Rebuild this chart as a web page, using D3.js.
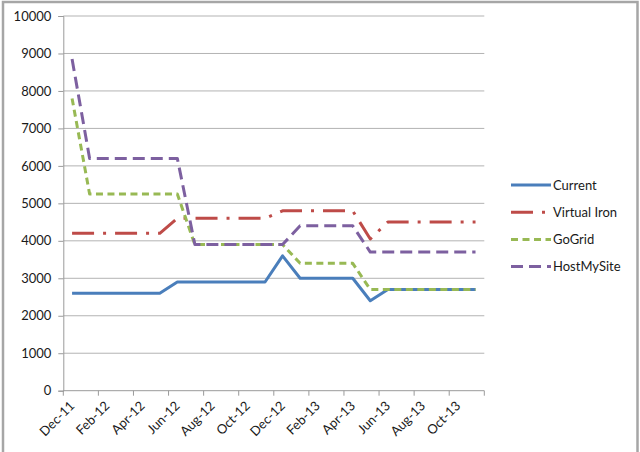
<!DOCTYPE html>
<html>
<head>
<meta charset="utf-8">
<script src="https://cdn.jsdelivr.net/npm/d3@7"></script>
<style>
  html, body { margin: 0; padding: 0; background: #fff; }
  svg { display: block; font-family: Lato, "Open Sans", sans-serif; }
</style>
</head>
<body>
<script>
// ---- data ----
const months = ["Dec-11","Jan-12","Feb-12","Mar-12","Apr-12","May-12","Jun-12","Jul-12","Aug-12","Sep-12","Oct-12","Nov-12",
                "Dec-12","Jan-13","Feb-13","Mar-13","Apr-13","May-13","Jun-13","Jul-13","Aug-13","Sep-13","Oct-13","Nov-13"];
const tickLabels = ["Dec-11","Feb-12","Apr-12","Jun-12","Aug-12","Oct-12","Dec-12","Feb-13","Apr-13","Jun-13","Aug-13","Oct-13"];
const yTicks = [0,1000,2000,3000,4000,5000,6000,7000,8000,9000,10000];
const seriesNames = ["Current","Virtual Iron","GoGrid","HostMySite"];
const current     = [2600,2600,2600,2600,2600,2600,2900,2900,2900,2900,2900,2900,3600,3000,3000,3000,3000,2400,2700,2700,2700,2700,2700,2700];
const virtualIron = [4200,4200,4200,4200,4200,4200,4600,4600,4600,4600,4600,4600,4800,4800,4800,4800,4800,4050,4500,4500,4500,4500,4500,4500];
const goGrid      = [7800,5250,5250,5250,5250,5250,5250,3900,3900,3900,3900,3900,3900,3400,3400,3400,3400,2700,2700,2700,2700,2700,2700,2700];
const hostMySite  = [8850,6200,6200,6200,6200,6200,6200,3900,3900,3900,3900,3900,3900,4400,4400,4400,4400,3700,3700,3700,3700,3700,3700,3700];

const seriesValues = [current, virtualIron, goGrid, hostMySite];
const colors = ["#4a7ebb","#be4b48","#98b954","#7d60a0"];
const dashes = [null, "22,9,3,9", "7,4.5", "12,6"];

const W = 640, H = 452;
const svg = d3.select("body").append("svg").attr("width", W).attr("height", H);

// outer chart border
svg.append("rect").attr("x", 3).attr("y", 2).attr("width", 634.5).attr("height", 470)
  .attr("fill", "none").attr("stroke", "#a6a6a6").attr("stroke-width", 2.5);

const plot = {left: 63.3, right: 484.3, top: 16, bottom: 390.7};
const x = d3.scaleBand().domain(months).range([plot.left, plot.right]).padding(0);
const y = d3.scaleLinear().domain([0, 10000]).range([plot.bottom, plot.top]);
const cx = m => x(m) + x.bandwidth() / 2;

// gridlines
svg.append("g").selectAll("line").data(yTicks.filter(d => d > 0)).join("line")
  .attr("x1", plot.left).attr("x2", plot.right)
  .attr("y1", d => y(d)).attr("y2", d => y(d))
  .attr("stroke", "#b3b3b3").attr("stroke-width", 1);

// y axis
const yAxis = svg.append("g").attr("transform", `translate(${plot.left},0)`)
  .call(d3.axisLeft(y).tickValues(yTicks).tickSize(5).tickPadding(7).tickFormat(d3.format("d")));
yAxis.select(".domain").attr("stroke", "#9a9a9a");
yAxis.selectAll(".tick line").attr("stroke", "#9a9a9a");
yAxis.selectAll(".tick text").attr("font-size", 13).attr("fill", "#1a1a1a")
  .attr("font-family", "Lato, sans-serif");

// x axis
const xg = svg.append("g");
xg.append("line").attr("x1", plot.left).attr("x2", plot.right)
  .attr("y1", plot.bottom).attr("y2", plot.bottom).attr("stroke", "#9a9a9a");
const tickPos = tickLabels.map(l => x(l)).concat([plot.right]);
xg.selectAll("line.tk").data(tickPos).join("line").attr("class", "tk")
  .attr("x1", d => d).attr("x2", d => d)
  .attr("y1", plot.bottom).attr("y2", plot.bottom + 5).attr("stroke", "#9a9a9a");
xg.selectAll("text").data(tickLabels).join("text")
  .attr("transform", d => `translate(${x(d) + 12},${plot.bottom + 16}) rotate(-45)`)
  .attr("text-anchor", "end").attr("font-size", 13).attr("fill", "#1a1a1a")
  .text(d => d);

// lines
const line = d3.line().x((d, i) => cx(months[i])).y(d => y(d));
seriesValues.forEach((vals, k) => {
  svg.append("path").datum(vals)
    .attr("d", line).attr("fill", "none")
    .attr("stroke", colors[k]).attr("stroke-width", 3)
    .attr("stroke-dasharray", dashes[k])
    .attr("stroke-linejoin", "round");
});

// legend
const lg = svg.append("g");
seriesNames.forEach((name, k) => {
  const ly = 185 + k * 27.2;
  lg.append("line").attr("x1", 511).attr("x2", 551).attr("y1", ly).attr("y2", ly)
    .attr("stroke", colors[k]).attr("stroke-width", 3).attr("stroke-dasharray", dashes[k]);
  lg.append("text").attr("x", 553).attr("y", ly + 4.5).attr("font-size", 13).attr("fill", "#1a1a1a")
    .text(name);
});
</script>
</body>
</html>
